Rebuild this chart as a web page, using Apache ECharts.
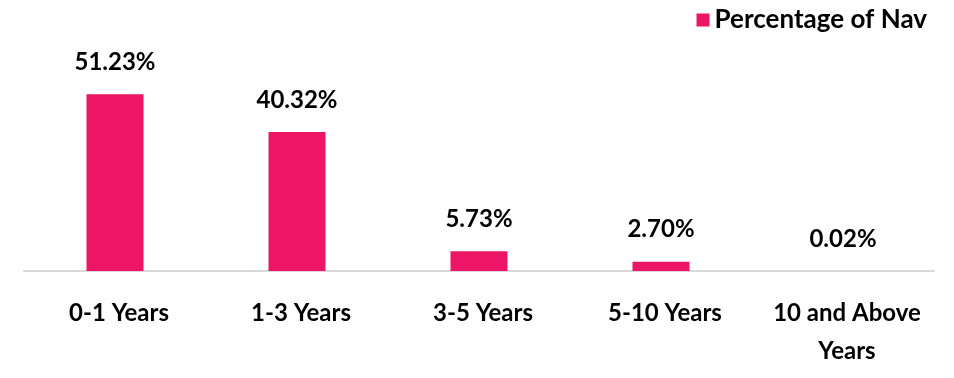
<!DOCTYPE html>
<html><head><meta charset="utf-8">
<script src="https://cdn.jsdelivr.net/npm/echarts@6/dist/echarts.min.js"></script>
<style>html,body{margin:0;padding:0;background:#fff}#c{width:954px;height:378px}</style>
</head><body><div id="c"></div>
<script>
const categories = ['0-1 Years', '1-3 Years', '3-5 Years', '5-10 Years', '10 and Above\nYears'];
const seriesName = 'Percentage of Nav';
const values = [51.23, 40.32, 5.73, 2.70, 0.02];

const chart = echarts.init(document.getElementById('c'));
chart.setOption({
  animation: false,
  textStyle: { fontFamily: 'Lato' },
  legend: {
    data: [seriesName], top: 2, right: 22, itemWidth: 13, itemHeight: 13, itemGap: 8,
    icon: 'rect',
    textStyle: { fontFamily: 'Lato', fontWeight: 'bold', fontSize: 26, color: '#000' }
  },
  grid: { left: 24, right: 20, top: 64, bottom: 107 },
  xAxis: {
    type: 'category', data: categories,
    axisLine: { lineStyle: { color: '#d9d9d9', width: 2 } },
    axisTick: { show: false },
    axisLabel: { fontFamily: 'Lato', fontWeight: 'bold', fontSize: 24, color: '#000', margin: 23, lineHeight: 38, interval: 0, padding: [0, 0, 0, 8] }
  },
  yAxis: { type: 'value', min: 0, max: 60, show: false, splitLine: { show: false } },
  series: [{
    name: seriesName, type: 'bar', data: values, barWidth: 57,
    itemStyle: { color: '#ED1566' },
    label: {
      show: true, position: 'top', distance: 20,
      formatter: p => p.value.toFixed(2) + '%',
      fontFamily: 'Lato', fontWeight: 'bold', fontSize: 24, color: '#000'
    }
  }]
});
</script></body></html>
